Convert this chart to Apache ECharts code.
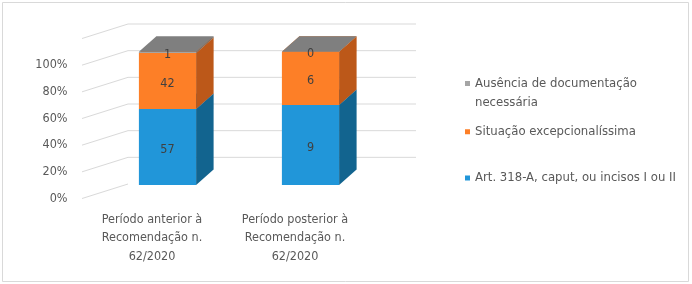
<!DOCTYPE html>
<html><head><meta charset="utf-8">
<script src="https://cdn.jsdelivr.net/npm/echarts@6/dist/echarts.min.js"></script>
<style>html,body{margin:0;padding:0;background:#fff}#c{width:692px;height:284px}</style>
</head><body><div id="c"></div>
<script>
// ---- data ----
const categories = ['Período anterior à\nRecomendação n.\n62/2020', 'Período posterior à\nRecomendação n.\n62/2020'];
const seriesNames = ['Art. 318-A, caput, ou incisos I ou II', 'Situação excepcionalíssima', 'Ausência de documentação\nnecessária'];
const art318Values = [57, 9];
const excepcionalValues = [42, 6];
const ausenciaValues = [1, 0];
const yTickValues = [0, 20, 40, 60, 80, 100, 120];

// ---- style ----
const FONT = '"DejaVu Sans Condensed","Liberation Sans Narrow","Liberation Sans",sans-serif';
const palettes = [
  {front: '#2196D9', side: '#12648F', top: '#1A7CB5'},
  {front: '#FD7F27', side: '#BC5819', top: '#D96A1F'},
  {front: '#A5A5A5', side: '#6F6F6F', top: '#7F7F7F'}
];
const WALL_DX = 46, WALL_DY = -14.5;
const BAR_RATIO = 0.4, BAR_SHIFT_X = 15.5, BAR_SHIFT_Y = -13.5;
const DEPTH_X = 17.5, DEPTH_Y = -15.5;

const allValues = [art318Values, excepcionalValues, ausenciaValues];
const totals = categories.map((_, i) => allValues.reduce((s, arr) => s + arr[i], 0));
const cum = categories.map(() => 0);
const stackedData = allValues.map(arr => arr.map((v, i) => {
  const start = cum[i] / totals[i] * 100;
  cum[i] += v;
  const end = cum[i] / totals[i] * 100;
  return [i, start, end, v];
}));

function barRender(si) {
  const pal = palettes[si];
  return function (params, api) {
    const ci = api.value(0), v0 = api.value(1), v1 = api.value(2), count = api.value(3);
    const pb = api.coord([ci, v0]), pt = api.coord([ci, v1]);
    const bw = api.size([1, 0])[0] * BAR_RATIO;
    const x0 = pb[0] + BAR_SHIFT_X - bw / 2, x1 = x0 + bw;
    const yb = pb[1] + BAR_SHIFT_Y, yt = pt[1] + BAR_SHIFT_Y;
    return {
      type: 'group',
      children: [
        {type: 'rect', shape: {x: x0, y: yt, width: bw, height: yb - yt}, style: {fill: pal.front}},
        {type: 'polygon', shape: {points: [[x1, yb], [x1 + DEPTH_X, yb + DEPTH_Y], [x1 + DEPTH_X, yt + DEPTH_Y], [x1, yt]]}, style: {fill: pal.side}},
        {type: 'polygon', shape: {points: [[x0, yt], [x0 + DEPTH_X, yt + DEPTH_Y], [x1 + DEPTH_X, yt + DEPTH_Y], [x1, yt]]}, style: {fill: pal.top}},
        {type: 'text', x: (x0 + x1) / 2, y: (yb + yt) / 2 + 2.5, z2: 10,
          style: {text: String(count), fill: '#404040', font: '12.5px ' + FONT, align: 'center', verticalAlign: 'middle'}}
      ]
    };
  };
}

function wallRender(params, api) {
  const cs = params.coordSys;
  const v = api.value(1);
  const p = api.coord([0, v]);
  const fx = cs.x + 1.5, fy = p[1];
  const bx = fx + WALL_DX, by = fy + WALL_DY;
  const pts = [[fx, fy], [bx, by]];
  if (v > 0) pts.push([bx + cs.width + 2, by]);
  return {type: 'polyline', shape: {points: pts}, style: {stroke: '#D9D9D9', lineWidth: 1, fill: null}};
}

const series = [{
  type: 'custom', name: '_wall', renderItem: wallRender, silent: true, z: 1,
  data: yTickValues.map(v => [0, v]), encode: {x: 0, y: 1}
}];
stackedData.forEach((d, si) => series.push({
  type: 'custom', name: seriesNames[si], renderItem: barRender(si), z: 2 + si,
  itemStyle: {color: palettes[si].front},
  data: d, encode: {x: 0, y: [1, 2]}
}));

const legendText = {color: '#595959', fontSize: 13, fontFamily: FONT, lineHeight: 18.5};
const chart = echarts.init(document.getElementById('c'));
chart.setOption({
  animation: false,
  backgroundColor: '#fff',
  graphic: [{type: 'rect', shape: {x: 2.5, y: 2.5, width: 686, height: 279}, style: {fill: null, stroke: '#D9D9D9', lineWidth: 1}, silent: true}],
  grid: {left: 80.5, width: 286, top: 38.5, height: 160},
  xAxis: {
    type: 'category', data: categories,
    axisLine: {show: false}, axisTick: {show: false}, splitLine: {show: false},
    axisLabel: {interval: 0, margin: 12, lineHeight: 18.4, fontSize: 12.5, color: '#595959', fontFamily: FONT}
  },
  yAxis: {
    type: 'value', min: 0, max: 120, interval: 20,
    axisLine: {show: false}, axisTick: {show: false}, splitLine: {show: false},
    axisLabel: {margin: 13, fontSize: 12.5, color: '#595959', fontFamily: FONT, padding: [5, 0, 0, 0],
      formatter: v => v === 120 ? '' : v + '%'}
  },
  legend: [
    {data: [seriesNames[2]], left: 465, top: 74.75, padding: 0, itemWidth: 5, itemHeight: 24.5,
      icon: 'path://M0,0h5v5h-5zM0,24.4h0.01v0.1h-0.01z', textStyle: legendText, selectedMode: false},
    {data: [seriesNames[1]], left: 465, top: 122.5, padding: 0, itemWidth: 5, itemHeight: 5,
      icon: 'rect', textStyle: legendText, selectedMode: false},
    {data: [seriesNames[0]], left: 465, top: 168.75, padding: 0, itemWidth: 5, itemHeight: 5,
      icon: 'rect', textStyle: legendText, selectedMode: false}
  ],
  series: series
});
</script></body></html>
